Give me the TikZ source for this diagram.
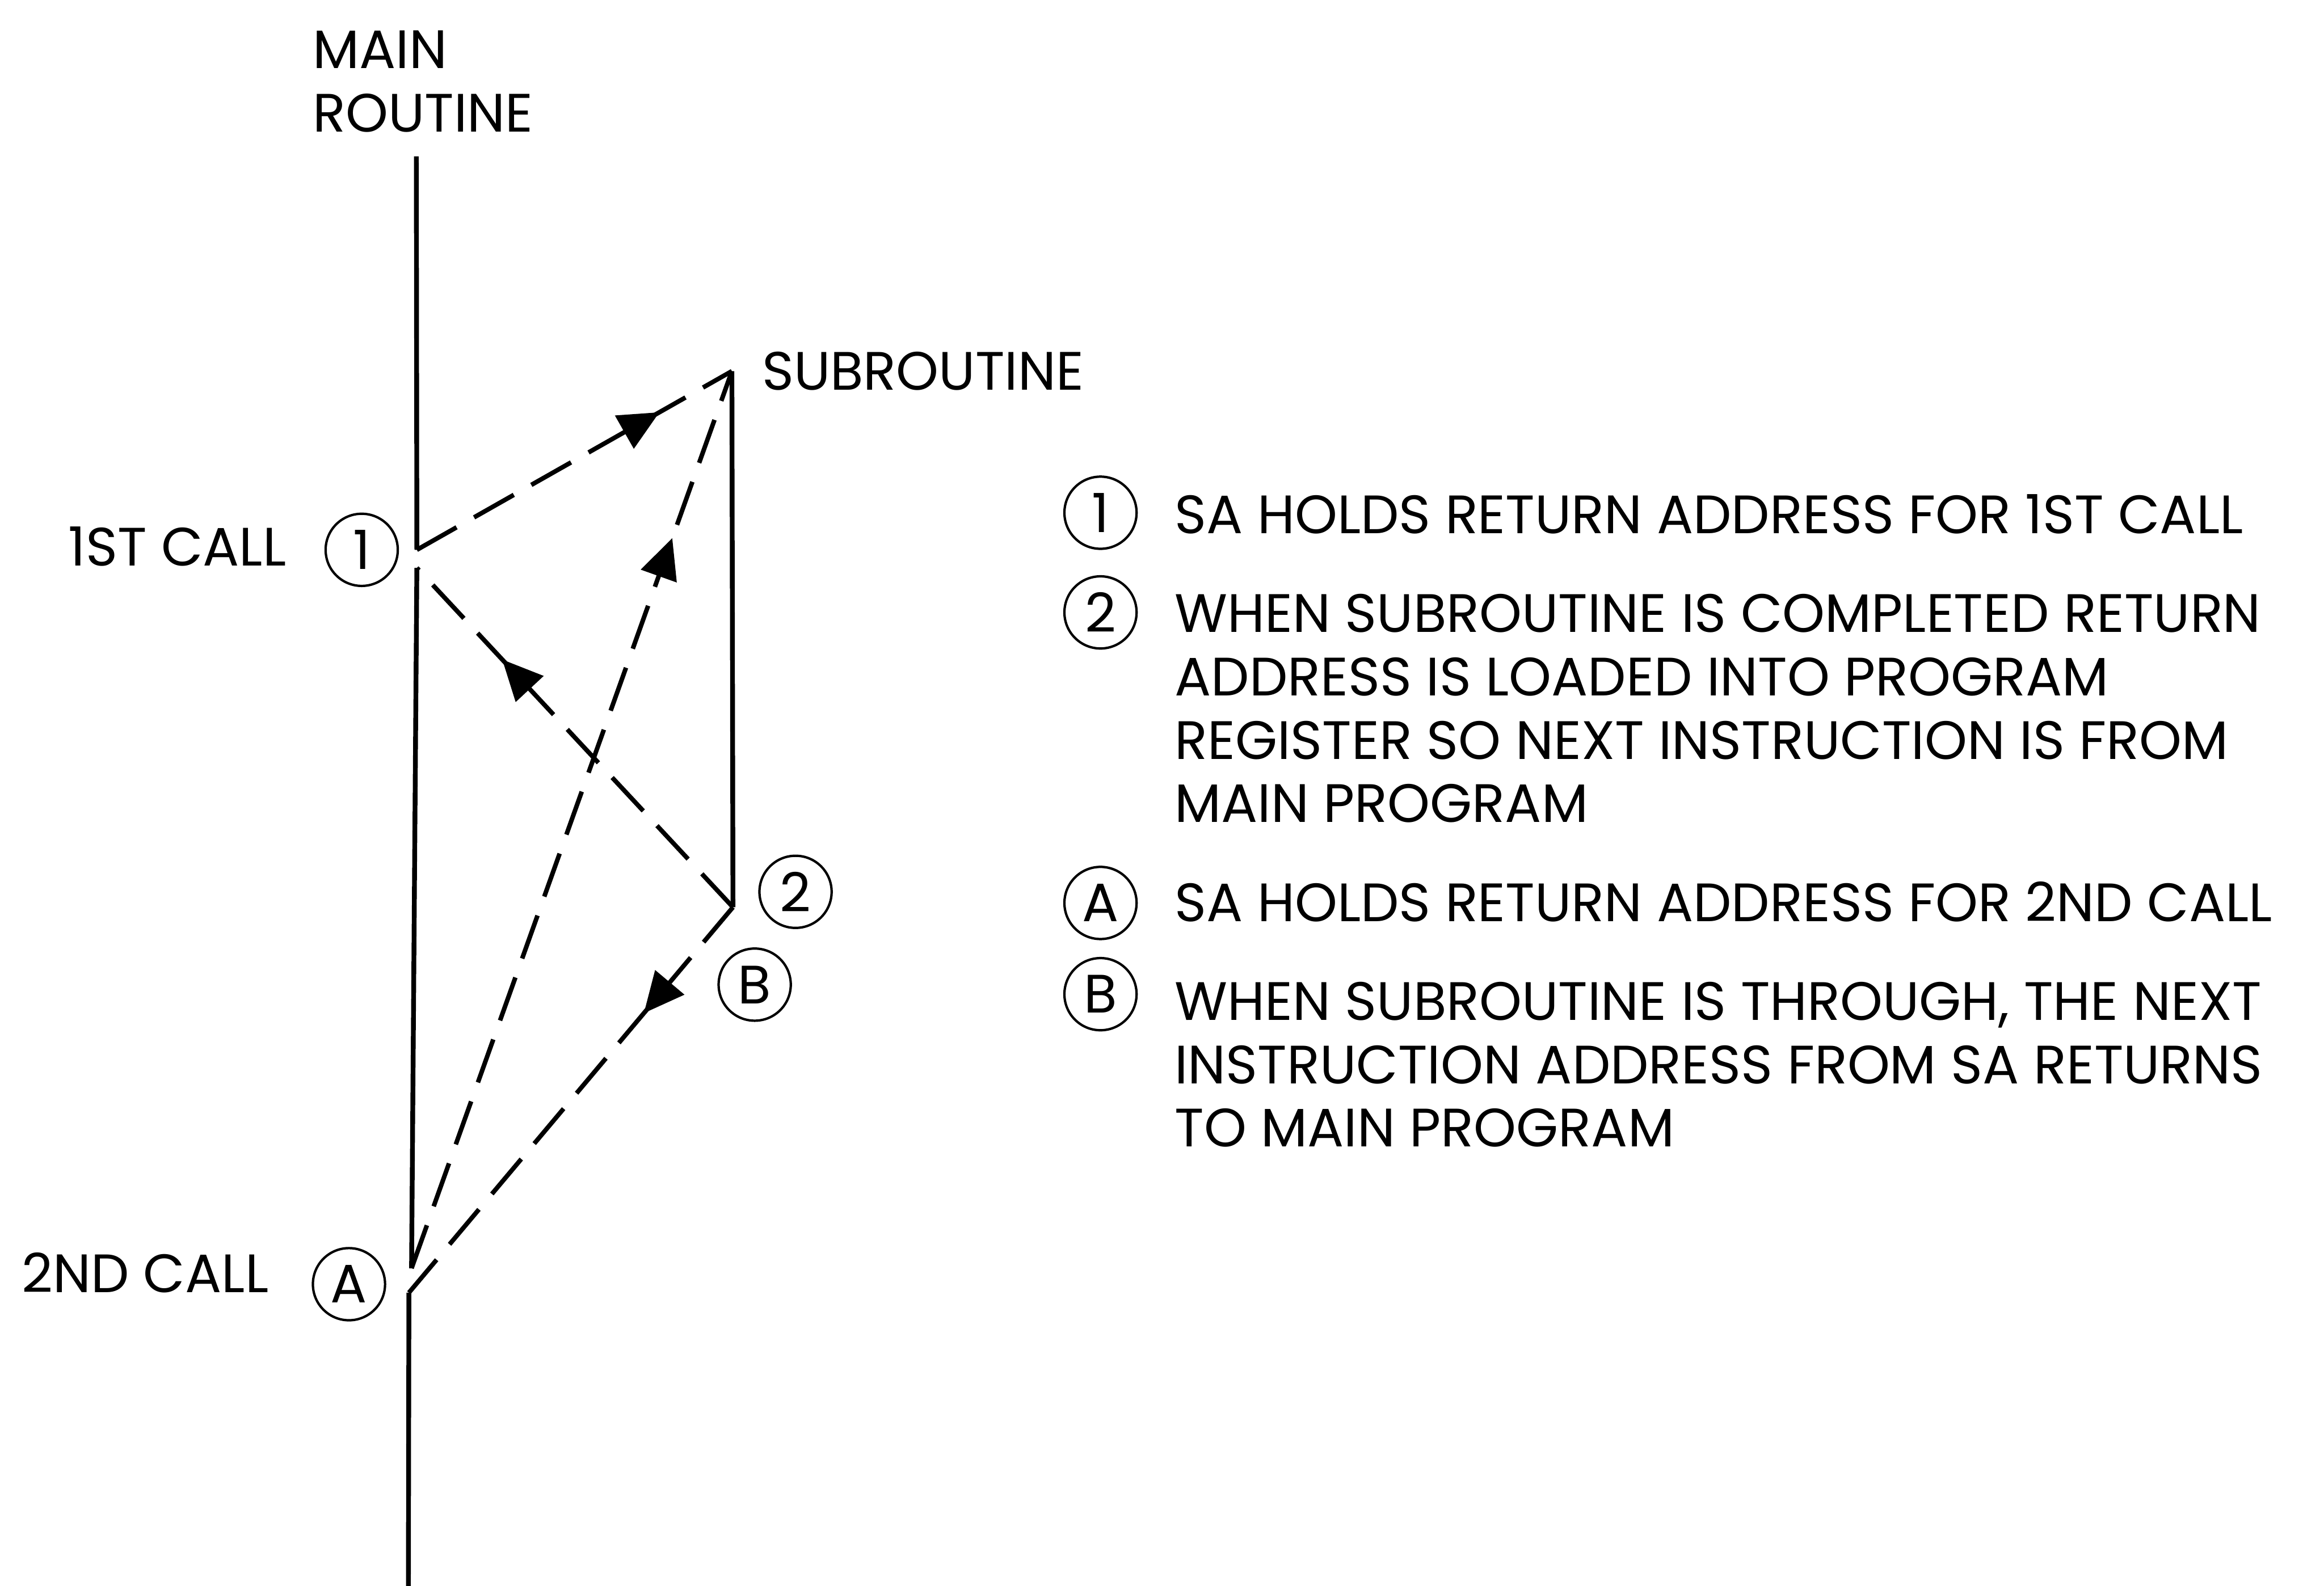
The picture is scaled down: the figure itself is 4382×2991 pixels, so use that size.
\documentclass[tikz,border=0pt]{standalone}
\usepackage{fontspec}
\setmainfont{Poppins}
\usetikzlibrary{arrows.meta,decorations.markings}

\begin{document}
\begin{tikzpicture}[x=0.01cm,y=-0.01cm,
  lbl/.style={inner sep=0pt,outer sep=0pt,anchor=base west,align=left,
    font=\fontsize{29pt}{34pt}\selectfont},
  circ/.style={circle,draw,line width=0.045cm,minimum size=1.36cm,inner sep=0pt,
    font=\fontsize{29pt}{34pt}\selectfont},
  flow/.style={line width=0.09cm},
  jump/.style={line width=0.085cm,dash pattern=on 0.86cm off 0.38cm},
  tipat/.style={postaction={decorate},decoration={markings,
    mark=at position #1 with {\arrow{Triangle[length=0.76cm,width=0.70cm]}}}}]

\useasboundingbox (0,0) rectangle (4382,2991);

% points on the main routine and the subroutine
\coordinate (mtop)  at (785,295);
\coordinate (call1) at (786,1037);
\coordinate (back1) at (786,1071);
\coordinate (call2) at (776,2392);
\coordinate (back2) at (771,2438);
\coordinate (mbot)  at (770,2991);
\coordinate (stop)  at (1380,700);
\coordinate (sbot)  at (1382,1711);

% labels (multi-line labels are placed by the baseline of their last line)
\node[lbl] (main) at (590,249) {MAIN\\ROUTINE};
\node[lbl] (sub) at (1437,735) {SUBROUTINE};
\node[lbl] (first) at (129,1067) {1ST CALL};
\node[lbl] (second) at (41,2438) {2ND CALL};

\node[circ] (k1) at (682,1037) {1};
\node[circ] (k2) at (1500,1682) {2};
\node[circ] (kB) at (1423,1857) {B};
\node[circ] (kA) at (658,2422) {A};

% main routine and subroutine
\draw[flow] (mtop) -- (call1);
\draw[flow] (back1) -- (call2);
\draw[flow] (back2) -- (mbot);
\draw[flow] (stop) -- (sbot);

% transfers of control
\draw[jump,tipat=0.77] (call1) -- (stop);
\draw[jump,tipat=0.73] (sbot) -- (back1);
\draw[jump,tipat=0.814] (call2) -- (stop);
\draw[jump,tipat=0.275] (sbot) -- (back2);

% legend
\node[circ] (n1) at (2075,967) {1};
\node[lbl] (t1) at (2215,1006) {SA HOLDS RETURN ADDRESS FOR 1ST CALL};
\node[circ] (n2) at (2075,1155) {2};
\node[lbl] (t2) at (2215,1551) {WHEN SUBROUTINE IS COMPLETED RETURN\\ADDRESS IS LOADED INTO PROGRAM\\REGISTER SO NEXT INSTRUCTION IS FROM\\MAIN PROGRAM};
\node[circ] (nA) at (2075,1703) {A};
\node[lbl] (tA) at (2215,1738) {SA HOLDS RETURN ADDRESS FOR 2ND CALL};
\node[circ] (nB) at (2075,1875) {B};
\node[lbl] (tB) at (2215,2163) {WHEN SUBROUTINE IS THROUGH, THE NEXT\\INSTRUCTION ADDRESS FROM SA RETURNS\\TO MAIN PROGRAM};
\end{tikzpicture}
\end{document}
